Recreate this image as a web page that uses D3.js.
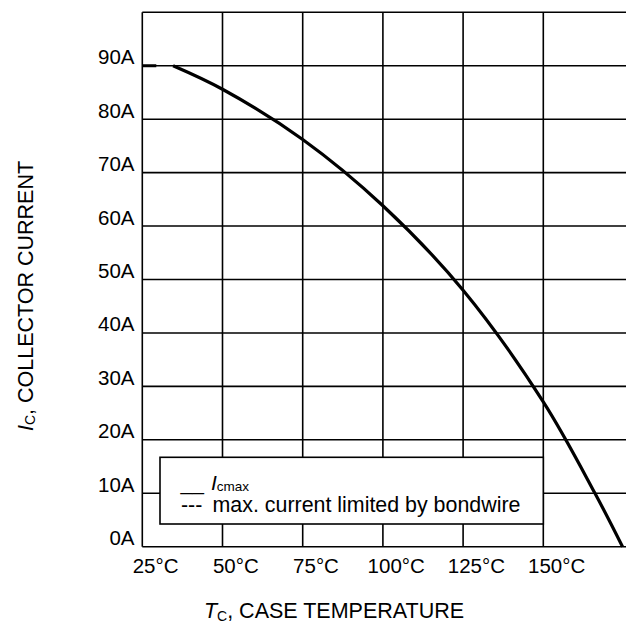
<!DOCTYPE html>
<html>
<head>
<meta charset="utf-8">
<script src="https://cdn.jsdelivr.net/npm/d3@7"></script>
<style>
  html, body { margin: 0; padding: 0; background: #fff; }
  text { font-family: "Liberation Sans", Arial, Helvetica, sans-serif; fill: #000; }
</style>
</head>
<body>
<svg id="chart" width="626" height="635"></svg>
<script>
// ---- data ----
const xTicks = [25, 50, 75, 100, 125, 150, 175];
const xTickLabels = ["25°C", "50°C", "75°C", "100°C", "125°C", "150°C", ""];
const yTicks = [0, 10, 20, 30, 40, 50, 60, 70, 80, 90, 100];
const yTickLabels = ["0A", "10A", "20A", "30A", "40A", "50A", "60A", "70A", "80A", "90A", ""];
// Icmax curve (case temperature °C, collector current A)
const icmaxTemp = [34.6, 50, 75, 100, 125, 150, 166.1, 174.7];
const icmaxCurrent = [90, 85.6, 76.2, 63.8, 48, 27.1, 10, 0];
// bondwire limit
const bondTemp = [25, 34.6];
const bondCurrent = [90, 90];

// ---- layout ----
const svg = d3.select("#chart");
const x = d3.scaleLinear().domain([25, 175]).range([142.3, 623.5]);
const y = d3.scaleLinear().domain([0, 100]).range([546.7, 12.3]);

const grid = svg.append("g").attr("stroke", "#000").attr("stroke-width", 1.6);
grid.selectAll("line.h").data(yTicks).enter().append("line")
  .attr("x1", x(25)).attr("x2", 626)
  .attr("y1", d => y(d)).attr("y2", d => y(d));
grid.selectAll("line.v").data(xTicks.slice(0, 6)).enter().append("line")
  .attr("x1", d => x(d)).attr("x2", d => x(d))
  .attr("y1", y(100)).attr("y2", y(0));

// y tick labels
svg.append("g").selectAll("text").data(yTicks).enter().append("text")
  .attr("x", 134.5).attr("y", d => y(d) - 1.5)
  .attr("text-anchor", "end").attr("font-size", "20.5px")
  .text((d, i) => yTickLabels[i]);

// x tick labels
svg.append("g").selectAll("text").data(xTicks).enter().append("text")
  .attr("x", d => x(d) + 13.3).attr("y", 573)
  .attr("text-anchor", "middle").attr("font-size", "20.5px")
  .text((d, i) => xTickLabels[i]);

// curves
const line = d3.line().x(d => x(d[0])).y(d => y(d[1])).curve(d3.curveCatmullRom.alpha(0.5));
svg.append("path")
  .datum(icmaxTemp.map((t, i) => [t, icmaxCurrent[i]]))
  .attr("d", line).attr("fill", "none").attr("stroke", "#000").attr("stroke-width", 3.2);
svg.append("path")
  .datum(bondTemp.map((t, i) => [t, bondCurrent[i]]))
  .attr("d", d3.line().x(d => x(d[0])).y(d => y(d[1])))
  .attr("fill", "none").attr("stroke", "#000").attr("stroke-width", 3)
  .attr("stroke-dasharray", "14,17");

// legend
const lg = svg.append("g");
lg.append("rect").attr("x", 160).attr("y", 457.3).attr("width", 383.3).attr("height", 66.7)
  .attr("fill", "#fff").attr("stroke", "#000").attr("stroke-width", 1.6);
lg.append("text").attr("x", 180.5).attr("y", 490).attr("font-size", "21px").text("__");
const l1 = lg.append("text").attr("x", 211).attr("y", 490).attr("font-size", "21px");
l1.append("tspan").attr("font-style", "italic").text("I");
l1.append("tspan").attr("font-size", "13.5px").attr("dy", 1).text("cmax");
lg.append("text").attr("x", 181).attr("y", 511.7).attr("font-size", "21.4px").text("---");
lg.append("text").attr("x", 212.5).attr("y", 511.7).attr("font-size", "21.4px")
  .text("max. current limited by bondwire");

// axis titles
const xt = svg.append("text").attr("x", 334).attr("y", 618)
  .attr("text-anchor", "middle").attr("font-size", "21.5px");
xt.append("tspan").attr("font-style", "italic").text("T");
xt.append("tspan").attr("font-size", "14px").attr("dy", 3).text("C");
xt.append("tspan").attr("dy", -3).text(", CASE TEMPERATURE");

const yt = svg.append("text").attr("transform", "translate(32.5,296) rotate(-90)")
  .attr("text-anchor", "middle").attr("font-size", "21.5px");
yt.append("tspan").attr("font-style", "italic").text("I");
yt.append("tspan").attr("font-size", "14px").attr("dy", 2).text("C");
yt.append("tspan").attr("dy", -2).text(", COLLECTOR CURRENT");
</script>
</body>
</html>
